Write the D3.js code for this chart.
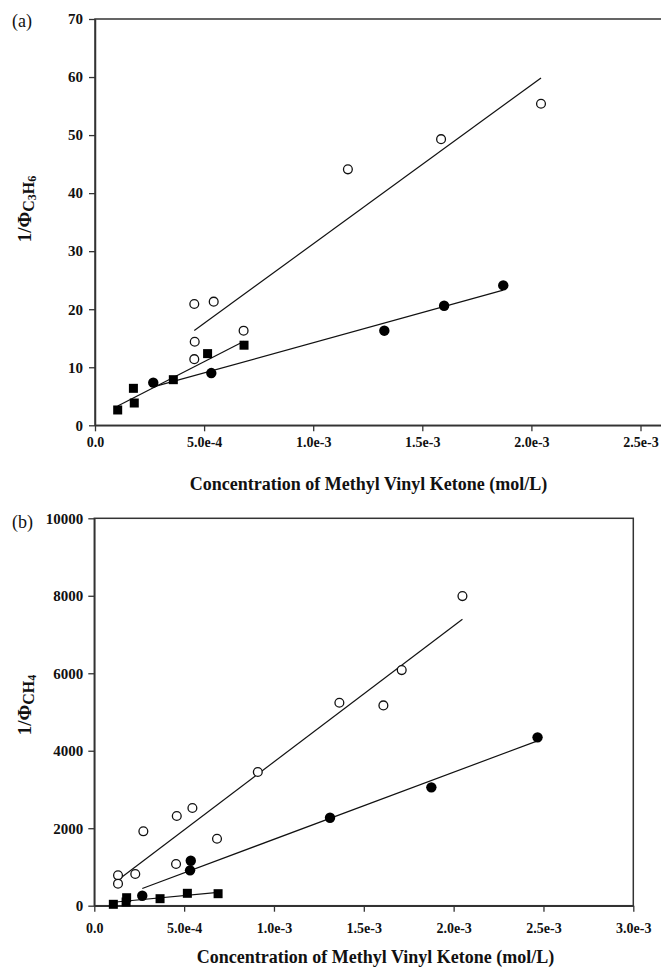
<!DOCTYPE html>
<html>
<head>
<meta charset="utf-8">
<script src="https://cdn.jsdelivr.net/npm/d3@7"></script>
<style>
  html, body { margin: 0; padding: 0; background: #fff; }
  svg { display: block; }
  svg text { font-family: 'Liberation Serif', 'DejaVu Serif', serif !important; }
</style>
</head>
<body>
<svg id="chart" width="661" height="968"></svg>
<script>
// ---------- DATA ----------
// x tick values / labels (shared)
const xTickValues = [0, 5e-4, 1e-3, 1.5e-3, 2e-3, 2.5e-3, 3e-3];
const xTickLabels = ["0.0", "5.0e-4", "1.0e-3", "1.5e-3", "2.0e-3", "2.5e-3", "3.0e-3"];

// Panel (a): 1/Phi C3H6
const aYTicks = [0, 10, 20, 30, 40, 50, 60, 70];
const aOpenX   = [4.55e-4, 5.44e-4, 4.57e-4, 4.55e-4, 6.81e-4, 1.159e-3, 1.586e-3, 2.044e-3];
const aOpenY   = [20.9, 21.3, 14.4, 11.4, 16.3, 44.1, 49.3, 55.4];
const aFilledX = [2.67e-4, 5.33e-4, 1.326e-3, 1.600e-3, 1.871e-3];
const aFilledY = [7.35, 9.0, 16.3, 20.6, 24.1];
const aSquareX = [1.04e-4, 1.76e-4, 1.80e-4, 3.59e-4, 5.16e-4, 6.83e-4];
const aSquareY = [2.64, 6.37, 3.84, 7.86, 12.35, 13.8];

// Panel (b): 1/Phi CH4
const bYTicks = [0, 2000, 4000, 6000, 8000, 10000];
const bOpenX   = [1.32e-4, 1.32e-4, 2.28e-4, 2.73e-4, 4.59e-4, 4.55e-4, 5.46e-4, 6.83e-4, 9.10e-4, 1.364e-3, 1.609e-3, 1.711e-3, 2.049e-3];
const bOpenY   = [784, 568, 818, 1920, 2315, 1076, 2521, 1729, 3450, 5239, 5171, 6082, 7992];
const bFilledX = [2.67e-4, 5.37e-4, 5.33e-4, 1.312e-3, 1.876e-3, 2.467e-3];
const bFilledY = [258, 1161, 913, 2271, 3055, 4345];
const bSquareX = [1.06e-4, 1.80e-4, 1.77e-4, 3.66e-4, 5.18e-4, 6.89e-4];
const bSquareY = [36, 206, 95, 181, 320, 310];

const xTitle = "Concentration of Methyl Vinyl Ketone (mol/L)";

// ---------- DRAW ----------
const svg = d3.select("#chart");
const AX = "#333";
const FONT = "'Liberation Serif', 'DejaVu Serif', serif";

function fit(xs, ys) {
  const n = xs.length;
  const mx = d3.mean(xs), my = d3.mean(ys);
  let sxy = 0, sxx = 0;
  for (let i = 0; i < n; i++) { sxy += (xs[i]-mx)*(ys[i]-my); sxx += (xs[i]-mx)*(xs[i]-mx); }
  const b = sxy / sxx, a = my - b * mx;
  const x0 = d3.min(xs), x1 = d3.max(xs);
  return [[x0, a + b*x0], [x1, a + b*x1]];
}

function panel(cfg) {
  const g = svg.append("g").attr("font-family", FONT);
  const x = d3.scaleLinear().domain([0, 3e-3]).range([cfg.left, cfg.right]);
  const y = d3.scaleLinear().domain(cfg.yDomain).range([cfg.bottom, cfg.top]);

  // frame
  g.append("rect")
    .attr("x", cfg.left).attr("y", cfg.top)
    .attr("width", cfg.right - cfg.left).attr("height", cfg.bottom - cfg.top)
    .attr("fill", "none").attr("stroke", AX).attr("stroke-width", 1.5);

  // axes
  const yAxis = d3.axisLeft(y).tickValues(cfg.yTicks).tickFormat(d3.format("d"))
    .tickSizeInner(6).tickSizeOuter(0).tickPadding(cfg.yPad);
  const gy = g.append("g").attr("transform", `translate(${cfg.left},0)`).call(yAxis);
  const xAxis = d3.axisBottom(x).tickValues(xTickValues)
    .tickFormat((d, i) => xTickLabels[i]).tickSizeInner(6).tickSizeOuter(0).tickPadding(cfg.xPad);
  const gx = g.append("g").attr("transform", `translate(0,${cfg.bottom})`).call(xAxis);
  [gx, gy].forEach(a => {
    a.attr("font-family", FONT);
    a.select(".domain").attr("stroke", AX).attr("stroke-width", 1.5);
    a.selectAll(".tick line").attr("stroke", AX).attr("stroke-width", 1.3);
    a.selectAll(".tick text").attr("fill", "#111")
      .attr("font-weight", "bold").style("font-family", FONT);
  });
  gy.selectAll(".tick text").attr("font-size", 15);
  gx.selectAll(".tick text").attr("font-size", 14);

  const line = d3.line().x(d => x(d[0])).y(d => y(d[1]));
  const series = [
    { xs: cfg.openX, ys: cfg.openY, type: "open" },
    { xs: cfg.filledX, ys: cfg.filledY, type: "filled" },
    { xs: cfg.squareX, ys: cfg.squareY, type: "square" }
  ];
  // regression lines
  series.forEach(s => {
    g.append("path").datum(fit(s.xs, s.ys)).attr("d", line)
      .attr("fill", "none").attr("stroke", "#111").attr("stroke-width", 1.2);
  });
  // markers
  series.forEach(s => {
    const pts = s.xs.map((v, i) => [v, s.ys[i]]);
    if (s.type === "square") {
      g.selectAll(null).data(pts).enter().append("rect")
        .attr("x", d => x(d[0]) - 4.5).attr("y", d => y(d[1]) - 4.5)
        .attr("width", 9).attr("height", 9).attr("fill", "#000");
    } else if (s.type === "filled") {
      g.selectAll(null).data(pts).enter().append("circle")
        .attr("cx", d => x(d[0])).attr("cy", d => y(d[1])).attr("r", 5.2).attr("fill", "#000");
    } else {
      g.selectAll(null).data(pts).enter().append("circle")
        .attr("cx", d => x(d[0])).attr("cy", d => y(d[1])).attr("r", 4.4)
        .attr("fill", "#fff").attr("stroke", "#111").attr("stroke-width", 1.3);
    }
  });

  // x title
  g.append("text").attr("x", cfg.xTitleX).attr("y", cfg.xTitleY)
    .attr("text-anchor", "middle").attr("font-size", 18).attr("font-weight", "bold")
    .attr("fill", "#111").text(xTitle);

  // y title (rotated) with subscripts
  const yt = g.append("text")
    .attr("transform", `translate(${cfg.yTitleX},${cfg.yTitleY}) rotate(-90)`)
    .attr("text-anchor", "middle").attr("font-weight", "bold").attr("fill", "#111");
  yt.append("tspan").attr("font-size", 19).text("1/Φ");
  cfg.sub.forEach(p => {
    yt.append("tspan").attr("font-size", p.s).attr("dy", p.dy).text(p.t);
  });

  // panel label
  g.append("text").attr("x", 12).attr("y", cfg.labelY).attr("font-size", 18)
    .attr("fill", "#111").text(cfg.label);
}

panel({
  left: 95, right: 749.6, top: 19, bottom: 425.3,
  yDomain: [0, 70], yTicks: aYTicks, yPad: 6, xPad: 6,
  openX: aOpenX, openY: aOpenY, filledX: aFilledX, filledY: aFilledY,
  squareX: aSquareX, squareY: aSquareY,
  xTitleX: 368.5, xTitleY: 490,
  yTitleX: 31, yTitleY: 209,
  sub: [{t: "C", s: 16, dy: 2.5}, {t: "3", s: 12, dy: 2.5}, {t: "H", s: 16, dy: -2.5}, {t: "6", s: 12, dy: 2.5}],
  label: "(a)", labelY: 27
});

panel({
  left: 94.3, right: 633.3, top: 518.3, bottom: 905.7,
  yDomain: [0, 10000], yTicks: bYTicks, yPad: 5, xPad: 11,
  openX: bOpenX, openY: bOpenY, filledX: bFilledX, filledY: bFilledY,
  squareX: bSquareX, squareY: bSquareY,
  xTitleX: 375.5, xTitleY: 963,
  yTitleX: 31, yTitleY: 705,
  sub: [{t: "CH", s: 16, dy: 2.5}, {t: "4", s: 12, dy: 2.5}],
  label: "(b)", labelY: 528
});
</script>
</body>
</html>
